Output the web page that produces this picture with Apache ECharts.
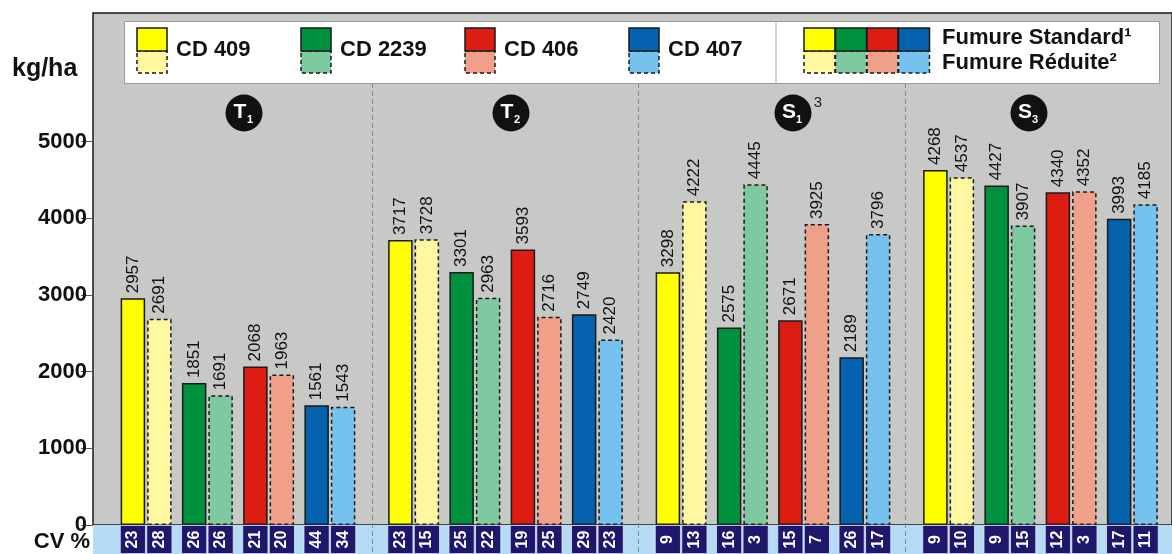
<!DOCTYPE html>
<html><head><meta charset="utf-8">
<script src="https://cdn.jsdelivr.net/npm/echarts@6/dist/echarts.min.js"></script>
<style>html,body{margin:0;padding:0;background:#fff}#c{width:1172px;height:554px}</style>
</head><body><div id="c"></div>
<script>
// ---------- DATA ----------
const groups = ['T1', 'T2', 'S1', 'S3'];
const varieties = ['CD 409', 'CD 2239', 'CD 406', 'CD 407'];
const yTicks = [0, 1000, 2000, 3000, 4000, 5000];

// yields (kg/ha), Fumure Standard / Fumure Réduite, per group
const standardT1 = [2957, 1851, 2068, 1561];
const reducedT1  = [2691, 1691, 1963, 1543];
const standardT2 = [3717, 3301, 3593, 2749];
const reducedT2  = [3728, 2963, 2716, 2420];
const standardS1 = [3298, 2575, 2671, 2189];
const reducedS1  = [4222, 4445, 3925, 3796];
const standardS3 = [4630, 4427, 4340, 3993]; // first bar is drawn at ~4630 in the picture
const reducedS3  = [4537, 3907, 4352, 4185];
// printed labels (the first S3 bar is printed 4268)
const standardLabelsS3 = [4268, 4427, 4340, 3993];

// CV %
const cvStandardT1 = [23, 26, 21, 44];
const cvReducedT1  = [28, 26, 20, 34];
const cvStandardT2 = [23, 25, 19, 29];
const cvReducedT2  = [15, 22, 25, 23];
const cvStandardS1 = [9, 16, 15, 26];
const cvReducedS1  = [13, 3, 7, 17];
const cvStandardS3 = [9, 9, 12, 17];
const cvReducedS3  = [10, 15, 3, 11];

const standardColors = ['#ffff00', '#00913f', '#de1d12', '#0562ae'];
const reducedColors  = ['#fff8a0', '#7fc9a0', '#f09f88', '#76c2ee'];

// ---------- BUILD ----------
const standardByGroup = [standardT1, standardT2, standardS1, standardS3];
const reducedByGroup = [reducedT1, reducedT2, reducedS1, reducedS3];
const standardLabelsByGroup = [standardT1, standardT2, standardS1, standardLabelsS3];
const cvStdByGroup = [cvStandardT1, cvStandardT2, cvStandardS1, cvStandardS3];
const cvRedByGroup = [cvReducedT1, cvReducedT2, cvReducedS1, cvReducedS3];

const FONT = '"Liberation Sans", Arial, sans-serif';
const Y_MAX = 6678;
const PLOT_TOP = 13, PLOT_BOTTOM = 29;
const GROUP_START = 104.5, GROUP_W = 267.5, GROUP_PAD = 11, PAIRS_W = 245;
const EDGE = '#1a1a1a';

const grids = [], xAxes = [], yAxes = [], series = [];
function hiddenAxes(gi, cats, ymax) {
  xAxes.push({gridIndex: gi, type: 'category', data: cats, show: false});
  yAxes.push({gridIndex: gi, type: 'value', min: 0, max: ymax, show: false});
}

// grid 0 : grey plot area with the visible y axis
grids.push({left: 93, right: -6, top: PLOT_TOP, bottom: PLOT_BOTTOM, show: true,
  backgroundColor: '#c8c8c6', borderColor: EDGE, borderWidth: 1.5});
xAxes.push({gridIndex: 0, type: 'category', data: [''], show: false});
yAxes.push({gridIndex: 0, type: 'value', min: 0, max: Y_MAX, interval: 1000,
  axisLine: {show: false},
  axisTick: {show: true, length: 12, lineStyle: {color: '#555', width: 1}, customValues: yTicks},
  axisLabel: {customValues: yTicks, margin: 6, fontSize: 22, fontWeight: 'bold', color: '#111', fontFamily: FONT,
    formatter: v => (v > 5000 ? '' : String(v))},
  splitLine: {show: false}});

// grid 1 : CV band
grids.push({left: 93, right: -6, top: 554 - PLOT_BOTTOM, bottom: -6, show: true,
  backgroundColor: '#b5dcf4', borderWidth: 0});
hiddenAxes(1, [''], 1);

// grid 2 : dashed group separators
grids.push({left: GROUP_START + GROUP_W, width: GROUP_W * 3, top: 83, bottom: -6});
xAxes.push({gridIndex: 2, type: 'category', data: groups.slice(1), boundaryGap: true, z: 5,
  axisLine: {show: false}, axisTick: {show: false}, axisLabel: {show: false},
  splitLine: {show: true, lineStyle: {color: '#8a8a8a', width: 1, type: [5, 3]}}});
yAxes.push({gridIndex: 2, type: 'value', show: false, min: 0, max: 1});

// bar grids & CV grids per group
groups.forEach((g, k) => {
  const left = GROUP_START + k * GROUP_W + GROUP_PAD;
  const gi = grids.length;
  grids.push({left: left, width: PAIRS_W, top: PLOT_TOP, bottom: PLOT_BOTTOM});
  hiddenAxes(gi, varieties, Y_MAX);
  const lbl = (arr) => ({show: true, position: 'top', rotate: 90, align: 'left', verticalAlign: 'middle',
    distance: 5, fontSize: 17, color: '#111', fontFamily: FONT, formatter: p => String(arr[p.dataIndex])});
  series.push({type: 'bar', name: 'Fumure Standard ' + g, xAxisIndex: gi, yAxisIndex: gi,
    barWidth: 24.5, barGap: '8%', z: 6,
    data: standardByGroup[k].map((v, i) => ({value: v, itemStyle: {color: standardColors[i]}})),
    itemStyle: {borderColor: EDGE, borderWidth: 1.5},
    label: lbl(standardLabelsByGroup[k])});
  series.push({type: 'bar', name: 'Fumure Réduite ' + g, xAxisIndex: gi, yAxisIndex: gi,
    barWidth: 24.5, barGap: '8%', z: 6,
    data: reducedByGroup[k].map((v, i) => ({value: v, itemStyle: {color: reducedColors[i]}})),
    itemStyle: {borderColor: EDGE, borderWidth: 1.5, borderType: [4, 3]},
    label: lbl(reducedByGroup[k])});

  const ci = grids.length;
  grids.push({left: left, width: PAIRS_W, top: 554 - PLOT_BOTTOM, bottom: -4});
  hiddenAxes(ci, varieties, 1);
  const cvLbl = (arr) => ({show: true, position: 'inside', rotate: 90, fontSize: 16, fontWeight: 'bold',
    color: '#fff', fontFamily: FONT, formatter: p => String(arr[p.dataIndex])});
  [cvStdByGroup[k], cvRedByGroup[k]].forEach((arr, j) => {
    series.push({type: 'bar', name: (j ? 'CV réduite ' : 'CV standard ') + g, xAxisIndex: ci, yAxisIndex: ci,
      barWidth: 26, barGap: '2%', z: 6, data: arr.map(() => 1),
      itemStyle: {color: '#1e176c', borderColor: '#dfe6f5', borderWidth: 0.8},
      label: cvLbl(arr), silent: true});
  });
});

// ---------- LEGEND / ANNOTATIONS ----------
const graphic = [];
graphic.push({type: 'rect', z: 100, shape: {x: 124.5, y: 21.5, width: 1035, height: 62},
  style: {fill: '#fff', stroke: '#9a9a9a', lineWidth: 1}});
graphic.push({type: 'line', z: 101, shape: {x1: 776, y1: 22, x2: 776, y2: 83},
  style: {stroke: '#aaa', lineWidth: 1}});
function swatch(x, w, i) {
  graphic.push({type: 'rect', z: 102, shape: {x: x, y: 51, width: w, height: 22},
    style: {fill: reducedColors[i], stroke: EDGE, lineWidth: 1.5, lineDash: [4, 3]}});
  graphic.push({type: 'rect', z: 103, shape: {x: x, y: 28, width: w, height: 23},
    style: {fill: standardColors[i], stroke: EDGE, lineWidth: 1.5}});
}
const legendX = [137, 301, 465, 629];
varieties.forEach((v, i) => {
  swatch(legendX[i], 30, i);
  graphic.push({type: 'text', z: 104, x: legendX[i] + 39, y: 50,
    style: {text: v, fill: '#111', fontSize: 22, fontWeight: 'bold', fontFamily: FONT, verticalAlign: 'middle'}});
});
[0, 1, 2, 3].forEach(i => swatch(804 + i * 31.5, 31, i));
graphic.push({type: 'text', z: 104, x: 942, y: 38,
  style: {text: 'Fumure Standard\u00b9', fill: '#111', fontSize: 22, fontWeight: 'bold', fontFamily: FONT, verticalAlign: 'middle'}});
graphic.push({type: 'text', z: 104, x: 942, y: 63,
  style: {text: 'Fumure Réduite\u00b2', fill: '#111', fontSize: 22, fontWeight: 'bold', fontFamily: FONT, verticalAlign: 'middle'}});

graphic.push({type: 'text', z: 104, x: 12, y: 69,
  style: {text: 'kg/ha', fill: '#111', fontSize: 25, fontWeight: 'bold', fontFamily: FONT, verticalAlign: 'middle'}});
graphic.push({type: 'text', z: 104, x: 90, y: 542,
  style: {text: 'CV %', fill: '#111', fontSize: 22, fontWeight: 'bold', fontFamily: FONT, align: 'right', verticalAlign: 'middle'}});

const badges = [
  {l: 'T', s: '1', x: 244, y: 113},
  {l: 'T', s: '2', x: 511, y: 113},
  {l: 'S', s: '1', x: 793, y: 113, sup: '3'},
  {l: 'S', s: '3', x: 1029, y: 113}
];
badges.forEach(b => {
  graphic.push({type: 'circle', z: 104, shape: {cx: b.x, cy: b.y, r: 18.5}, style: {fill: '#111'}});
  graphic.push({type: 'text', z: 105, x: b.x - 4, y: b.y - 1,
    style: {text: b.l, fill: '#fff', fontSize: 21, fontWeight: 'bold', fontFamily: FONT, align: 'center', verticalAlign: 'middle'}});
  graphic.push({type: 'text', z: 105, x: b.x + 6, y: b.y + 7,
    style: {text: b.s, fill: '#fff', fontSize: 11, fontWeight: 'bold', fontFamily: FONT, align: 'center', verticalAlign: 'middle'}});
  if (b.sup) graphic.push({type: 'text', z: 105, x: b.x + 25, y: b.y - 10,
    style: {text: b.sup, fill: '#222', fontSize: 15, fontFamily: FONT, align: 'center', verticalAlign: 'middle'}});
});

const chart = echarts.init(document.getElementById('c'));
chart.setOption({
  animation: false,
  backgroundColor: '#fff',
  grid: grids, xAxis: xAxes, yAxis: yAxes, series: series, graphic: graphic
});
</script></body></html>
